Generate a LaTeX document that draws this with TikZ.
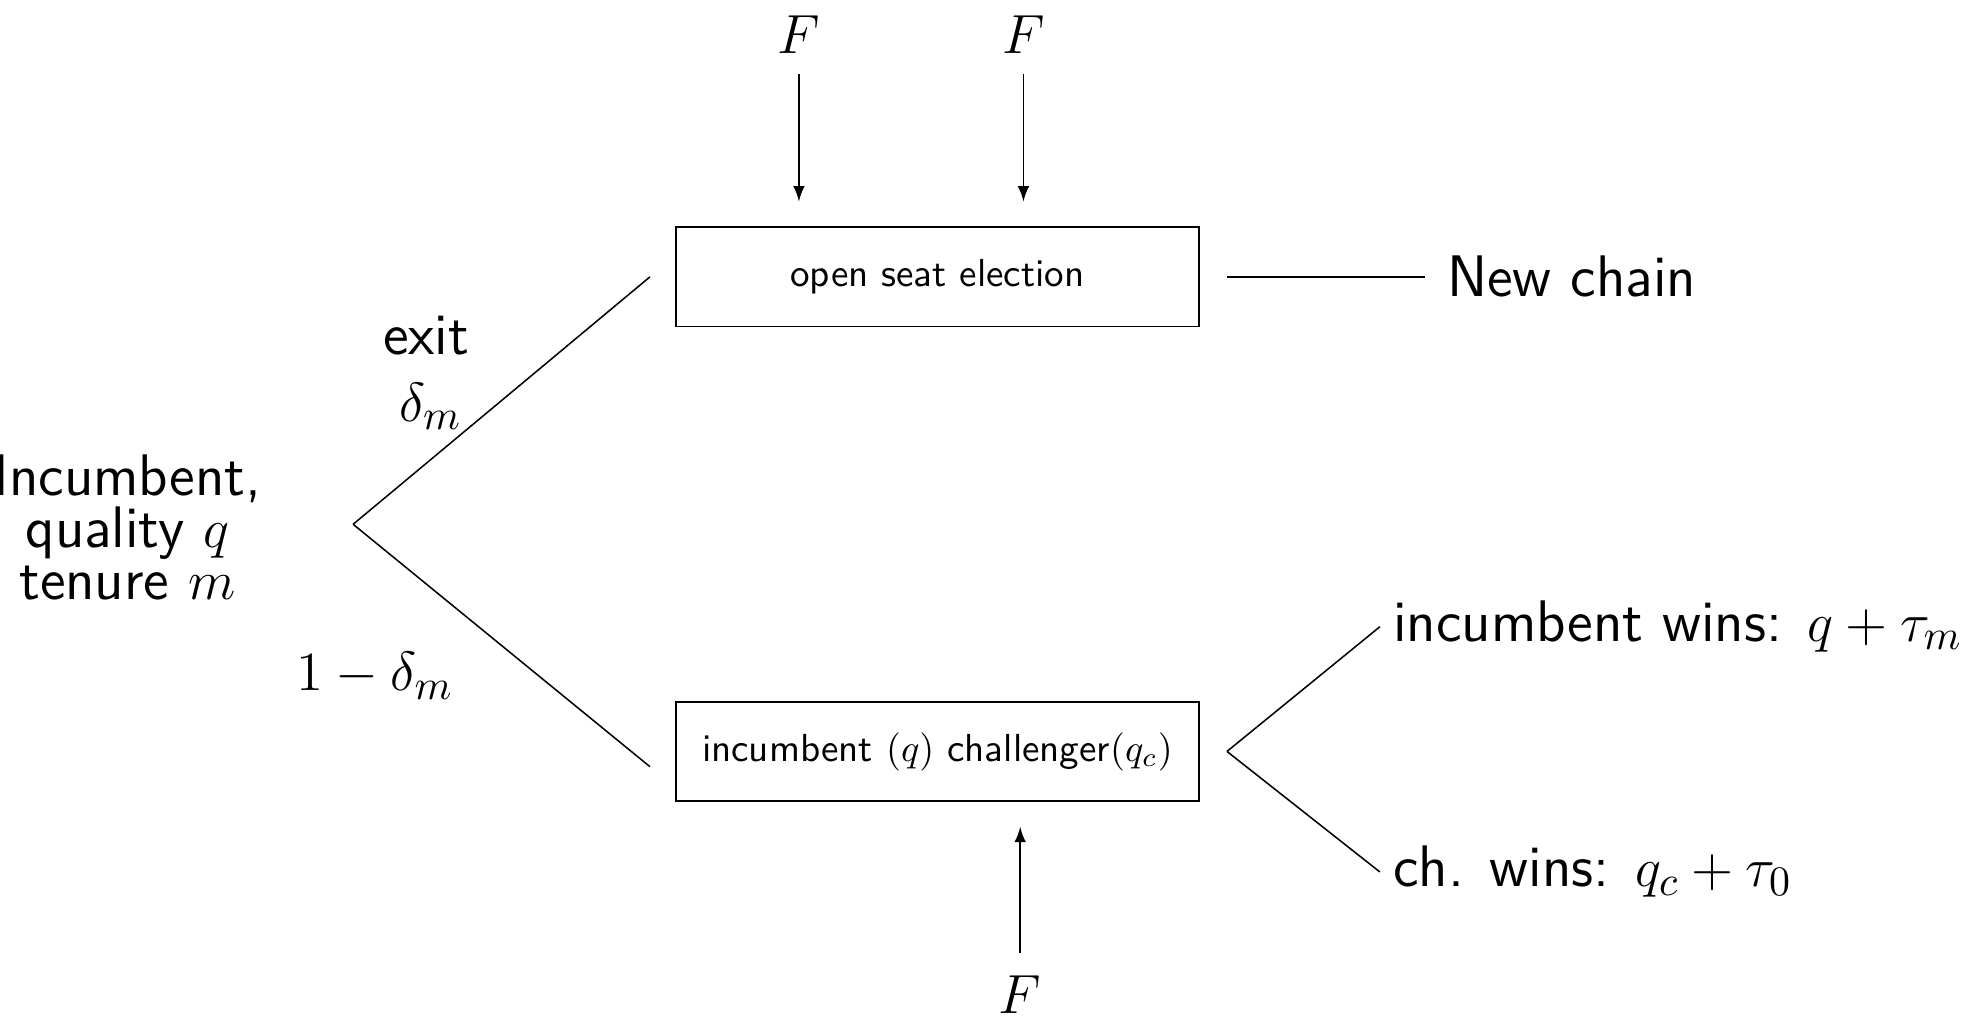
\documentclass[tikz,border=0pt]{standalone}
\usepackage{amsmath}
\usepackage{tikz}
\usetikzlibrary{positioning, arrows}
\tikzset{
>=latex, % small filled arrow heads
every node/.style={font=\sffamily}, % all text in sans serif
big/.style={font=\sffamily\fontsize{15.3pt}{13.6pt}\selectfont}, % labels around the boxes
election/.style={draw, minimum width=4.8cm, minimum height=0.91cm, font=\sffamily\fontsize{10.2pt}{12pt}\selectfont}, % the two election boxes
}
\begin{document}
\begin{tikzpicture}
                \useasboundingbox (0,0) rectangle (18.12,9.37);

                \node[election] (open) at (8.6,6.83) {open seat election};
                \node[election, below=3.43cm of open] (duel) {incumbent $(q)$ challenger$(q_c)$};

                \node[big, align=center] (inc) at (1.17,4.53) {Incumbent,\\ quality $q$\\ tenure $m$};
                \coordinate (root) at (3.24,4.56);
                \coordinate[right=0.25cm of duel.east] (split);

                \node[big] (newchain) at (14.42,6.83) {New chain};
                \node[big, anchor=west] (incwins) at (12.66,3.62) {incumbent wins: $q+\tau_m$};
                \node[big, anchor=west] (chwins) at (12.66,1.37) {ch. wins: $q_c+\tau_0$};

                \node[big] (exit) at (3.91,6.29) {exit};
                \node[big] (delta) at (3.95,5.64) {$\delta_m$};
                \node[big] (stay) at (3.44,3.17) {$1-\delta_m$};

                \node[big] (Fa) at (7.33,9.05) {$F$};
                \node[big] (Fb) at (9.39,9.05) {$F$};
                \node[big] (Fc) at (9.36,0.24) {$F$};

                \draw
                    (root) -- ([xshift=-0.23cm]open.west)
                    (root) -- ([shift={(-0.23cm,-0.14cm)}]duel.west)
                    (split) -- (incwins.west)
                    (split) -- (chwins.west)
                    ;
                \draw[shorten <=0.25cm, shorten >=0.08cm] (open.east) -- (newchain.west);

                \draw[->, shorten <=0.06cm, shorten >=0.23cm] (Fa) -- (Fa |- open.north);
                \draw[->, shorten <=0.06cm, shorten >=0.23cm] (Fb) -- (Fb |- open.north);
                \draw[->, shorten <=0.09cm, shorten >=0.23cm] (Fc) -- (Fc |- duel.south);
                \end{tikzpicture}
\end{document}
